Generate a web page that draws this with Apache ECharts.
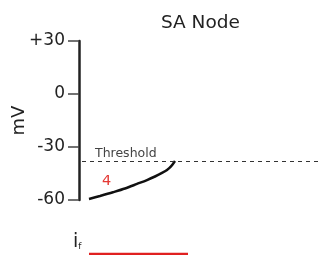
<!DOCTYPE html>
<html>
<head>
<meta charset="utf-8">
<script src="https://cdn.jsdelivr.net/npm/echarts@6/dist/echarts.min.js"></script>
<style>
  html, body { margin: 0; padding: 0; background: #fff; }
  #main { width: 318px; height: 255px; }
</style>
</head>
<body>
<div id="main"></div>
<script>
// phase 4 pacemaker potential (time in arbitrary units, mV)
var time = [10, 21, 34, 46, 58, 68, 76, 83, 88, 92, 96];
var mv = [-59.4, -57.7, -55.6, -53.5, -50.9, -48.7, -46.7, -44.7, -43.0, -41.0, -37.9];
var threshold = -38;
var yTicks = [-60, -30, 0, 30];
// funny current bar
var ifTime = [10, 109];

var myChart = echarts.init(document.getElementById('main'));

var curve = [];
for (var i = 0; i < time.length; i++) {
    curve.push([time[i], mv[i]]);
}

var font = 'DejaVu Sans';

var option = {
    animation: false,
    title: {
        text: 'SA Node',
        left: 156,
        top: 9,
        textStyle: { fontSize: 18.5, fontWeight: 'normal', color: '#222', fontFamily: font }
    },
    grid: [
        { left: 79, right: 0, top: 41, height: 159, outerBoundsMode: 'none', containLabel: false },
        { left: 79, right: 0, top: 248, height: 6, outerBoundsMode: 'none', containLabel: false }
    ],
    xAxis: [
        { type: 'value', gridIndex: 0, min: 0, max: 239, show: false },
        { type: 'value', gridIndex: 1, min: 0, max: 239, show: false }
    ],
    yAxis: [
        {
            type: 'value', gridIndex: 0, min: yTicks[0], max: yTicks[yTicks.length - 1], interval: 30,
            name: 'mV', nameLocation: 'middle', nameRotate: 90, nameGap: 51, nameMoveOverlap: false,
            nameTextStyle: { fontSize: 18, color: '#222', fontFamily: font },
            axisLine: { show: true, lineStyle: { color: '#222', width: 2.5 } },
            axisTick: { show: true, inside: false, length: 11, lineStyle: { color: '#444', width: 1.5 } },
            axisLabel: {
                fontSize: 17, color: '#222', margin: 14, fontFamily: font,
                formatter: function (v) { return v > 0 ? '+' + v : '' + v; }
            },
            splitLine: { show: false }
        },
        { type: 'value', gridIndex: 1, min: 0, max: 1, show: false }
    ],
    graphic: [
        {
            type: 'text', left: 73, top: 233,
            style: {
                text: '{a|i}{b|f}',
                rich: {
                    a: { fontSize: 19, fill: '#222', fontFamily: font },
                    b: { fontSize: 9, fill: '#222', fontFamily: font, padding: [9, 0, 0, 0] }
                }
            }
        },
        {
            type: 'text', left: 102, top: 174,
            style: { text: '4', fontSize: 14.5, fill: '#e53935', fontFamily: font }
        },
        {
            type: 'text', left: 95, top: 147,
            style: { text: 'Threshold', fontSize: 12.5, fill: '#444', fontFamily: font }
        }
    ],
    series: [
        {
            type: 'line',
            xAxisIndex: 0, yAxisIndex: 0,
            data: curve,
            smooth: 0.3,
            symbol: 'none',
            lineStyle: { color: '#111', width: 2.5 },
            markLine: {
                silent: true,
                symbol: 'none',
                label: { show: false },
                lineStyle: { color: '#333', width: 1, type: [4, 4] },
                data: [[{ coord: [3, threshold] }, { coord: [239, threshold] }]]
            }
        },
        {
            type: 'line',
            xAxisIndex: 1, yAxisIndex: 1,
            clip: false,
            data: [[ifTime[0], 0], [ifTime[1], 0]],
            symbol: 'none',
            lineStyle: { color: '#e02020', width: 2.5 }
        }
    ]
};
myChart.setOption(option);
</script>
</body>
</html>
